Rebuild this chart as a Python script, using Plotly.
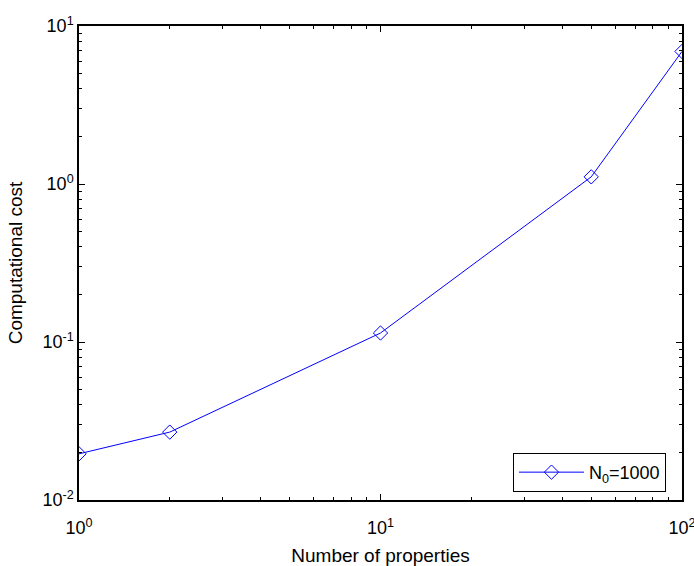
import plotly.graph_objects as go

# Data
num_properties = [1, 2, 10, 50, 100]
comp_cost = [0.0196, 0.0269, 0.114, 1.11, 6.9]
series_name = "N<sub>0</sub>=1000"

x_tickvals = [1, 10, 100]
x_ticktext = ["10<sup>0</sup>", "10<sup>1</sup>", "10<sup>2</sup>"]
y_tickvals = [0.01, 0.1, 1, 10]
y_ticktext = ["10<sup>-2</sup>", "10<sup>-1</sup>", "10<sup>0</sup>", "10<sup>1</sup>"]
x_minor_tickvals = [2, 3, 4, 5, 6, 7, 8, 9, 20, 30, 40, 50, 60, 70, 80, 90]
y_minor_tickvals = [0.02, 0.03, 0.04, 0.05, 0.06, 0.07, 0.08, 0.09,
                    0.2, 0.3, 0.4, 0.5, 0.6, 0.7, 0.8, 0.9,
                    2, 3, 4, 5, 6, 7, 8, 9]

FONT = "Liberation Sans, Arial, sans-serif"

fig = go.Figure()
fig.add_trace(go.Scatter(
    x=num_properties, y=comp_cost, name=series_name,
    mode="lines+markers",
    line=dict(color="#0000FF", width=1),
    marker=dict(symbol="diamond-open", size=11, color="#0000FF", line=dict(width=1)),
    showlegend=True,
))
# invisible carrier trace for the minor-tick axes
fig.add_trace(go.Scatter(
    x=num_properties, y=comp_cost, xaxis="x2", yaxis="y2",
    mode="markers", marker=dict(opacity=0), hoverinfo="skip", showlegend=False,
))

axis_common = dict(
    type="log",
    automargin=False,
    showgrid=False,
    zeroline=False,
    showline=True,
    linecolor="black",
    linewidth=1.5,
    mirror="ticks",
    ticks="inside",
    tickwidth=1,
    tickcolor="black",
)

fig.update_layout(
    width=694, height=566,
    margin=dict(l=79, r=12, t=26, b=66),
    paper_bgcolor="white",
    plot_bgcolor="white",
    font=dict(family=FONT, size=18, color="black"),
    xaxis=dict(
        **axis_common,
        range=[0, 2], ticklen=6,
        tickfont=dict(family=FONT, size=18, color="black"),
        tickmode="array", tickvals=x_tickvals, ticktext=x_ticktext,
        ticklabeloverflow="allow", ticklabelstandoff=11,
        title=dict(text="Number of properties", font=dict(family=FONT, size=19)),
    ),
    yaxis=dict(
        **axis_common,
        range=[-2, 1], ticklen=6,
        tickfont=dict(family=FONT, size=18, color="black"),
        tickmode="array", tickvals=y_tickvals, ticktext=y_ticktext,
        ticklabeloverflow="allow",
        title=dict(text="Computational cost", font=dict(family=FONT, size=19)),
    ),
    xaxis2=dict(
        **axis_common,
        overlaying="x", anchor="y2", side="bottom",
        range=[0, 2], ticklen=3, showticklabels=False,
        tickmode="array", tickvals=x_minor_tickvals,
    ),
    yaxis2=dict(
        **axis_common,
        overlaying="y", anchor="x2", side="left",
        range=[-2, 1], ticklen=3, showticklabels=False,
        tickmode="array", tickvals=y_minor_tickvals,
    ),
    legend=dict(
        x=0.7197, y=0.017, xanchor="left", yanchor="bottom",
        bordercolor="black", borderwidth=1, bgcolor="white",
        itemwidth=65,
        font=dict(family=FONT, size=18, color="black"),
    ),
)

fig.write_html("out.html", config={"displayModeBar": False},
               post_script="document.body.style.margin='0';")
